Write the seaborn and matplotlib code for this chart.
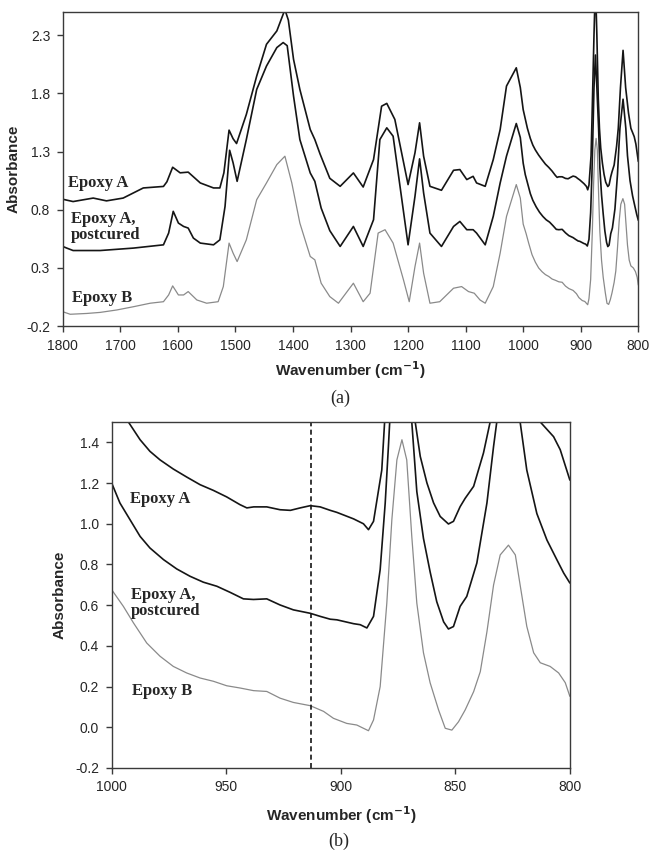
import matplotlib
matplotlib.use('Agg')
import matplotlib.pyplot as plt
import numpy as np
import seaborn as sns


# Spectra (wavenumber in cm-1, absorbance)
wn_a = [1800, 1782, 1747, 1724, 1695, 1660, 1625, 1619, 1609, 1596, 1582, 1561,
        1538, 1527, 1520, 1511, 1504, 1498, 1481, 1463, 1446, 1428, 1414, 1408,
        1399, 1388, 1370, 1362, 1353, 1336, 1318, 1295, 1278, 1260, 1246, 1237,
        1223, 1200, 1188, 1180, 1173, 1162, 1142, 1121, 1110, 1098, 1087, 1081,
        1066, 1052, 1040, 1029, 1012, 1005, 1000, 992.7, 987.6, 983.3, 978.9,
        973.1, 967.3, 961.4, 955.6, 949.8, 944, 941, 938, 932.3, 926.5, 922,
        917.7, 913.3, 909, 904.6, 901.7, 894.4, 890.1, 887.9, 885.7, 882.1,
        880.6, 877, 874.5, 872, 869.5, 867.5, 865.3, 862.4, 859.5, 856.6, 853,
        850.8, 847.9, 845.7, 842, 837.7, 834.8, 831, 826.5, 822, 817, 812.9,
        807.1, 804.2, 800]
abs_a = [0.89, 0.87, 0.90, 0.876, 0.90, 0.987, 1.00, 1.04, 1.165, 1.117, 1.123,
         1.03, 0.987, 0.987, 1.117, 1.484, 1.41, 1.369, 1.619, 1.949, 2.222,
         2.337, 2.52, 2.43, 2.093, 1.834, 1.49, 1.403, 1.28, 1.07, 1.001, 1.116,
         0.995, 1.231, 1.69, 1.714, 1.576, 1.016, 1.289, 1.547, 1.26, 1.001,
         0.967, 1.139, 1.145, 1.059, 1.087, 1.03, 1.001, 1.231, 1.49, 1.863,
         2.02, 1.85, 1.66, 1.50, 1.413, 1.356, 1.314, 1.269, 1.230, 1.192,
         1.164, 1.132, 1.094, 1.078, 1.083, 1.083, 1.069, 1.066, 1.078, 1.089,
         1.083, 1.066, 1.056, 1.024, 1.000, 0.971, 1.012, 1.264, 1.55, 2.3,
         2.75, 2.3, 1.75, 1.5, 1.331, 1.201, 1.103, 1.036, 0.999, 1.012, 1.084,
         1.125, 1.184, 1.348, 1.5, 1.85, 2.17, 1.85, 1.63, 1.5, 1.428, 1.364,
         1.215]

wn_p = [1800, 1793, 1782, 1735, 1677, 1625, 1616, 1608, 1599, 1590, 1582, 1573,
        1561, 1538, 1527, 1518, 1510, 1504, 1497, 1481, 1463, 1446, 1428, 1417,
        1410, 1399, 1388, 1370, 1362, 1351, 1336, 1318, 1295, 1278, 1260, 1249,
        1237, 1226, 1214, 1200, 1188, 1180, 1173, 1162, 1142, 1121, 1110, 1098,
        1087, 1081, 1066, 1052, 1040, 1029, 1012, 1005, 1000, 996.4, 992, 987.6,
        983.3, 977.4, 971.6, 965.8, 960, 954.1, 948.3, 942.5, 938.1, 932.3,
        926.5, 920.7, 913.3, 909, 904.6, 901.7, 894.4, 891.5, 888.6, 885.7,
        882.8, 880.6, 879.2, 877, 874.5, 872, 869, 866.8, 863.9, 861, 858.1,
        855.1, 853, 850.8, 847.9, 845, 840.6, 836.2, 833.3, 831.9, 826.5, 821.7,
        818.8, 814.4, 810, 805.7, 802.7, 800]
abs_p = [0.484, 0.47, 0.449, 0.449, 0.47, 0.498, 0.599, 0.786, 0.685, 0.656,
         0.642, 0.556, 0.513, 0.498, 0.541, 0.828, 1.311, 1.203, 1.044, 1.403,
         1.834, 2.035, 2.194, 2.237, 2.21, 1.777, 1.403, 1.116, 1.044, 0.814,
         0.62, 0.484, 0.656, 0.484, 0.714, 1.403, 1.504, 1.432, 1.001, 0.498,
         0.915, 1.237, 0.944, 0.599, 0.484, 0.656, 0.699, 0.628, 0.628, 0.599,
         0.498, 0.743, 1.030, 1.261, 1.541, 1.42, 1.200, 1.102, 1.020, 0.938,
         0.881, 0.824, 0.778, 0.742, 0.713, 0.693, 0.663, 0.631, 0.628, 0.631,
         0.601, 0.577, 0.560, 0.545, 0.531, 0.528, 0.509, 0.504, 0.488, 0.545,
         0.775, 1.102, 1.38, 1.85, 2.13, 1.85, 1.5, 1.158, 0.928, 0.764, 0.617,
         0.518, 0.483, 0.495, 0.594, 0.643, 0.807, 1.102, 1.38, 1.5, 1.75, 1.5,
         1.264, 1.05, 0.92, 0.824, 0.758, 0.709]

wn_b = [1800, 1787, 1758, 1735, 1706, 1677, 1648, 1625, 1616, 1609, 1599, 1590,
        1582, 1567, 1550, 1530, 1521, 1511, 1504, 1497, 1481, 1463, 1446, 1428,
        1414, 1402, 1388, 1370, 1362, 1351, 1336, 1321, 1295, 1278, 1266, 1252,
        1240, 1226, 1208, 1198, 1188, 1180, 1173, 1162, 1145, 1121, 1107, 1095,
        1085, 1075, 1066, 1052, 1040, 1029, 1012, 1005, 1000, 994.9, 990.5,
        984.7, 978.9, 973.1, 967.3, 961.4, 955.6, 949.8, 944, 938.1, 932.3,
        926.5, 920.7, 913.3, 907.5, 903.2, 897.4, 893, 890.1, 887.9, 885.7,
        882.8, 879.9, 877.7, 875.5, 873.3, 871.2, 869, 866.8, 863.9, 861, 857.3,
        854.4, 851.5, 848.6, 845.7, 842, 839.1, 836.2, 833.3, 830.4, 826.8,
        823.8, 821.7, 818.8, 815.8, 812.9, 808.6, 804.9, 802, 800]
abs_b = [-0.077, -0.099, -0.092, -0.083, -0.062, -0.034, -0.004, 0.009, 0.067,
         0.145, 0.067, 0.067, 0.096, 0.024, -0.004, 0.009, 0.139, 0.513, 0.427,
         0.354, 0.541, 0.886, 1.03, 1.188, 1.26, 1.03, 0.685, 0.398, 0.369,
         0.168, 0.053, -0.004, 0.168, 0.009, 0.082, 0.599, 0.628, 0.513, 0.197,
         0.009, 0.311, 0.513, 0.254, -0.004, 0.009, 0.125, 0.139, 0.096, 0.082,
         0.024, -0.004, 0.139, 0.427, 0.742, 1.016, 0.90, 0.676, 0.594, 0.513,
         0.414, 0.349, 0.299, 0.267, 0.242, 0.226, 0.204, 0.193, 0.180, 0.176,
         0.143, 0.122, 0.106, 0.078, 0.044, 0.019, 0.011, -0.005, -0.017, 0.036,
         0.200, 0.610, 1.020, 1.314, 1.413, 1.314, 0.938, 0.610, 0.366, 0.219,
         0.085, -0.005, -0.014, 0.027, 0.085, 0.175, 0.273, 0.469, 0.699, 0.847,
         0.895, 0.847, 0.699, 0.496, 0.366, 0.317, 0.299, 0.267, 0.219, 0.152]

labels = ['Epoxy A', 'Epoxy A,\npostcured', 'Epoxy B']
colors = ['#151515', '#151515', '#8a8a8a']
widths = [1.2, 1.2, 0.9]

top_yticks = [-0.2, 0.3, 0.8, 1.3, 1.8, 2.3]
marker_wn = 913

sns.set_style('ticks')
plt.rcParams['font.family'] = ['Liberation Sans', 'DejaVu Sans']
plt.rcParams['axes.unicode_minus'] = False

fig = plt.figure(figsize=(6.52, 8.55), dpi=100)
ax1 = fig.add_axes([0.0962, 0.6187, 0.8828, 0.3673])
ax2 = fig.add_axes([0.1713, 0.1018, 0.7027, 0.4046])

series = [(wn_a, abs_a), (wn_p, abs_p), (wn_b, abs_b)]
for ax in (ax1, ax2):
    for (x, y), c, lw in zip(series, colors, widths):
        sns.lineplot(x=x, y=y, ax=ax, color=c, linewidth=lw,
                     estimator=None, sort=True)
    for s in ax.spines.values():
        s.set_visible(True)
        s.set_color('#3a3a3a')
        s.set_linewidth(1.0)
    ax.tick_params(direction='out', length=4, width=1, color='#3a3a3a',
                   labelsize=10, pad=5)
    ax.set_ylabel('Absorbance', fontsize=11, fontweight='bold')
    ax.set_xlabel('Wavenumber (cm$^{\\mathbf{-1}}$)', fontsize=11,
                  fontweight='bold')

# panel (a)
ax1.set_xlim(1800, 800)
ax1.set_ylim(-0.2, 2.5)
ax1.set_xticks(np.arange(1800, 799, -100))
ax1.set_yticks(top_yticks)
ax1.xaxis.labelpad = 5
ax1.yaxis.labelpad = 4
txt = dict(family='Liberation Serif', fontsize=12, fontweight='bold',
           va='center', ha='left', linespacing=0.95)
ax1.text(1790, 1.03, labels[0], **txt)
ax1.text(1786, 0.65, labels[1], **txt)
ax1.text(1784, 0.04, labels[2], **txt)

# panel (b)
ax2.set_xlim(1000, 800)
ax2.set_ylim(-0.2, 1.5)
ax2.set_xticks([1000, 950, 900, 850, 800])
ax2.set_yticks(np.round(np.arange(-0.2, 1.41, 0.2), 1))
ax2.xaxis.labelpad = 7
ax2.yaxis.labelpad = 6
ax2.axvline(marker_wn, color='#151515', linestyle=(0, (3, 2)), linewidth=1.2)
ax2.text(992, 1.12, labels[0], **txt)
ax2.text(991.5, 0.61, labels[1], **txt)
ax2.text(991, 0.18, labels[2], **txt)

fig.text(0.522, 1 - 398 / 855, '(a)', family='Liberation Serif', fontsize=13,
         ha='center', va='center')
fig.text(0.520, 1 - 841 / 855, '(b)', family='Liberation Serif', fontsize=13,
         ha='center', va='center')

fig.savefig('out.png', dpi=100)
